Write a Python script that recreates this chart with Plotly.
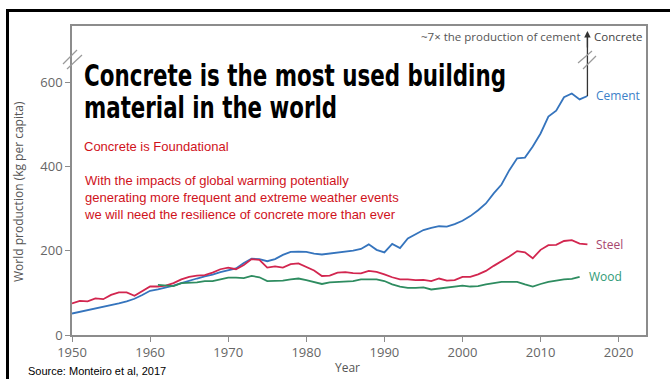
import plotly.graph_objects as go

# ---------------- data ----------------
cement_years = list(range(1950, 2017))
cement_values = [51, 55, 58, 62, 66, 70, 75, 80, 86, 95, 105, 108, 112, 117, 123, 129, 134, 139, 143, 149,
                 154, 158, 171, 181, 180, 175, 180, 190, 197, 198, 197, 193, 191, 193, 195, 197, 200, 204,
                 215, 202, 196, 216, 206, 229, 239, 249, 254, 258, 257, 263, 271, 282, 296, 312, 336, 357,
                 391, 419, 421, 447, 478, 518, 532, 564, 573, 559, 567]

steel_years = list(range(1950, 2017))
steel_values = [75, 81, 80, 87, 85, 95, 101, 101, 93, 105, 115, 115, 117, 123, 132, 138, 141, 142, 148, 156,
                160, 156, 166, 180, 178, 160, 163, 160, 168, 170, 162, 153, 140, 141, 148, 149, 147, 146,
                152, 150, 144, 137, 132, 132, 130, 131, 128, 134, 129, 130, 138, 138, 144, 152, 164, 174,
                186, 199, 196, 182, 202, 213, 214, 223, 225, 217, 215]

wood_years = list(range(1961, 2016))
wood_values = [119, 117, 116, 123, 124, 125, 128, 128, 132, 136, 136, 135, 140, 137, 128, 129, 129, 132, 134,
               130, 126, 121, 125, 126, 126, 128, 132, 132, 132, 128, 120, 115, 112, 112, 113, 108, 110, 113,
               115, 117, 115, 116, 120, 123, 126, 126, 126, 120, 115, 121, 126, 129, 132, 133, 138]

x_ticks = [1950, 1960, 1970, 1980, 1990, 2000, 2010, 2020]
y_ticks = [0, 200, 400, 600]

series_names = ["Cement", "Steel", "Wood"]
line_colors = ["#3574bd", "#d2264f", "#2e8c60"]
label_colors = ["#3d7fc8", "#a8466e", "#2f9a76"]

title_lines = ["Concrete is the most used building", "material in the world"]
title_widths = [422, 253]
subtitle = "Concrete is Foundational"
body_lines = ["With the impacts of global warming potentially",
              "generating more frequent and extreme weather events",
              "we will need the resilience of concrete more than ever"]
concrete_note = "~7\u00d7 the production of cement"
concrete_label = "Concrete"
concrete_value = 721
source_text = "Source: Monteiro et al, 2017"

# ---------------- geometry helpers ----------------
W, H = 670, 379
L, R, T, B = 72, 24, 26, 44
PW, PH = W - L - R, H - T - B


def px(x):
    return (x - L) / PW


def py(y):
    return (H - B - y) / PH


fig = go.Figure()
xs = [cement_years, steel_years, wood_years]
ys = [cement_values, steel_values, wood_values]
for name, xv, yv, c in zip(series_names, xs, ys, line_colors):
    fig.add_trace(go.Scatter(x=xv, y=yv, mode="lines", name=name,
                             line=dict(color=c, width=1.8), showlegend=False))

annotations = []
# series end labels
for name, xv, yv, c in zip(series_names, xs, ys, label_colors):
    annotations.append(dict(x=xv[-1], y=yv[-1], xref="x", yref="y", text=name, showarrow=False,
                            xanchor="left", yanchor="middle", xshift=7,
                            font=dict(family="Open Sans, Noto Sans, sans-serif", size=12, color=c)))

# arrow head to concrete (shaft drawn as a shape below)
annotations.append(dict(x=cement_years[-1], y=concrete_value, ax=0, ay=18,
                        xref="x", yref="y", text="", showarrow=True,
                        arrowhead=2, arrowsize=1, arrowwidth=1.3, arrowcolor="#333333"))
annotations.append(dict(x=cement_years[-1], y=concrete_value, xref="x", yref="y", text=concrete_label,
                        showarrow=False, xanchor="left", yanchor="middle", xshift=5, yshift=-5,
                        font=dict(family="Open Sans, Noto Sans, sans-serif", size=11.5, color="#444444")))
annotations.append(dict(x=cement_years[-1], y=concrete_value, xref="x", yref="y", text=concrete_note,
                        showarrow=False, xanchor="right", yanchor="middle", xshift=-4, yshift=-5,
                        font=dict(family="Open Sans, Noto Sans, sans-serif", size=11.5, color="#555555")))

# title (condensed later via SVG textLength so it keeps its real-text form)
for i, t in enumerate(title_lines):
    annotations.append(dict(x=px(82), y=py(76 + 32 * i), xref="paper", yref="paper", text=t,
                            showarrow=False, xanchor="left", yanchor="middle",
                            font=dict(family="'DejaVu Sans', sans-serif", size=30, color="#000000",
                                      weight="bold")))
# red texts
annotations.append(dict(x=px(82), y=py(146), xref="paper", yref="paper", text=subtitle, showarrow=False,
                        xanchor="left", yanchor="middle",
                        font=dict(family="Liberation Sans, Arial, sans-serif", size=13, color="#d0121b")))
annotations.append(dict(x=px(82), y=py(197), xref="paper", yref="paper", text="<br>".join(body_lines),
                        showarrow=False, xanchor="left", yanchor="middle", align="left",
                        font=dict(family="Liberation Sans, Arial, sans-serif", size=13, color="#d0121b")))
# axis titles
annotations.append(dict(x=px(18), y=py(192), xref="paper", yref="paper", text="World production (kg per capita)",
                        showarrow=False, textangle=-90, xanchor="center", yanchor="middle",
                        font=dict(family="Open Sans, Noto Sans, sans-serif", size=12, color="#555555")))
annotations.append(dict(x=px(347), y=py(367), xref="paper", yref="paper", text="Year",
                        showarrow=False, xanchor="center", yanchor="middle",
                        font=dict(family="Open Sans, Noto Sans, sans-serif", size=12, color="#555555")))
annotations.append(dict(x=px(26), y=py(371), xref="paper", yref="paper", text=source_text,
                        showarrow=False, xanchor="left", yanchor="middle",
                        font=dict(family="Liberation Sans, Arial, sans-serif", size=11, color="#000000")))

shapes = []
# outer black frame
shapes.append(dict(type="rect", xref="paper", yref="paper", x0=px(7.5), y0=py(420), x1=px(720), y1=py(10.5),
                   line=dict(color="#000000", width=3), fillcolor="rgba(0,0,0,0)", layer="above"))
# arrow shaft from cement end up to concrete level
shapes.append(dict(type="line", xref="x", yref="y", x0=cement_years[-1], y0=cement_values[-1],
                   x1=cement_years[-1], y1=concrete_value - 8, line=dict(color="#333333", width=1.3)))
# axis break marks
for (x0, y0, x1, y1) in [(63, 64, 77, 50), (67, 69, 82, 55), (578, 63, 592, 51), (583, 69, 596, 56)]:
    shapes.append(dict(type="line", xref="paper", yref="paper", x0=px(x0), y0=py(y0), x1=px(x1), y1=py(y1),
                       line=dict(color="#9a9a9a", width=1.2), layer="above"))

axis_font = dict(family="Open Sans, Noto Sans, sans-serif", size=13, color="#666666")
fig.update_layout(
    width=W, height=H, margin=dict(l=L, r=R, t=T, b=B),
    paper_bgcolor="white", plot_bgcolor="white",
    annotations=annotations, shapes=shapes,
    xaxis=dict(range=[1950, 2023.5], tickvals=x_ticks, ticks="outside", ticklen=5, tickcolor="#8c8c8c",
               showline=True, linecolor="#8c8c8c", linewidth=1.5, mirror=True, showgrid=False, zeroline=False,
               tickfont=axis_font),
    yaxis=dict(range=[0, 733], tickvals=y_ticks, ticks="outside", ticklen=5, tickcolor="#8c8c8c",
               showline=True, linecolor="#8c8c8c", linewidth=1.5, mirror=True, showgrid=False, zeroline=False,
               tickfont=axis_font),
)

widths_js = "{" + ",".join('"%s": %d' % (t, w) for t, w in zip(title_lines, title_widths)) + "}"
post = """
var gd = document.getElementById('{plot_id}');
var targets = %s;
gd.querySelectorAll('g.annotation').forEach(function(g){
  var t = g.querySelector('text');
  if (!t) return;
  var s = t.textContent;
  if (targets[s]) {
    var bb = t.getBBox();
    t.setAttribute('text-anchor', 'start');
    t.style.textAnchor = 'start';
    t.setAttribute('x', bb.x);
    t.setAttribute('textLength', targets[s]);
    t.setAttribute('lengthAdjust', 'spacingAndGlyphs');
    var r = g.querySelector('rect.bg');
    if (r) { r.setAttribute('width', targets[s] + 6); }
  }
});
""" % widths_js

fig.write_html("out.html", post_script=post)
